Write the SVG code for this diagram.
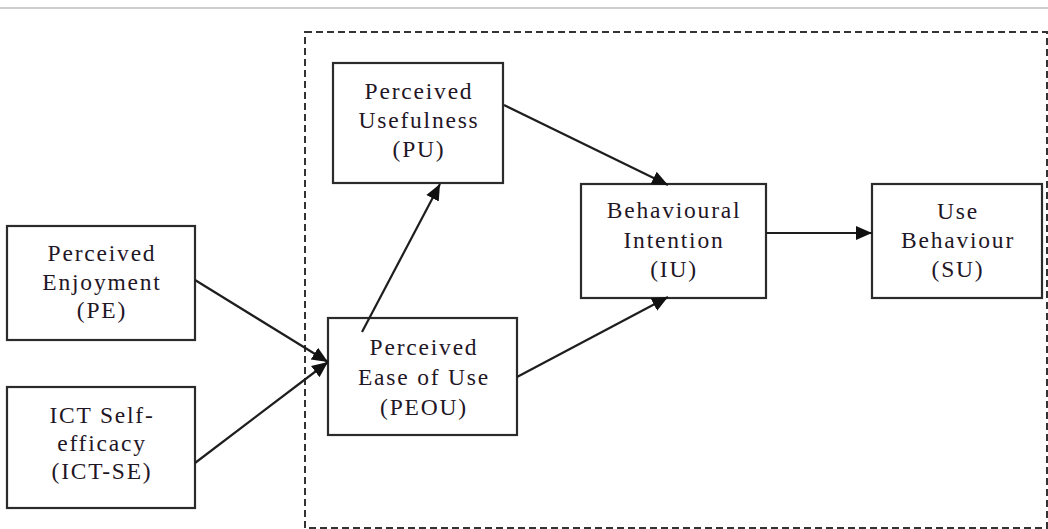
<svg xmlns="http://www.w3.org/2000/svg" width="1048" height="529" viewBox="0 0 1048 529">
<style>
.box{fill:#fff;stroke:#2b2b2b;stroke-width:2.2}
.lbl{font-family:"Liberation Serif","Times New Roman",serif;font-size:23.5px;fill:#1f1626;text-anchor:middle;letter-spacing:1.8px}
.edge{stroke:#1e1e1e;stroke-width:2.2;fill:none;marker-end:url(#ah)}
</style>
<defs>
<marker id="ah" markerWidth="18" markerHeight="16" refX="16" refY="8" orient="auto" markerUnits="userSpaceOnUse">
<path d="M0,1 L16,8 L0,15 Z" fill="#111"/>
</marker>
</defs>
<rect width="1048" height="529" fill="#fff"/>
<line x1="0" y1="8" x2="1048" y2="8" stroke="#bdbdbd" stroke-width="1.5"/>
<rect id="boundary" x="305" y="32" width="742" height="496" fill="none" stroke="#333" stroke-width="2" stroke-dasharray="7,4"/>
<g id="PE">
<rect class="box" x="7" y="226" width="188" height="114"/>
<text class="lbl" x="102" y="261">Perceived</text>
<text class="lbl" x="102" y="290">Enjoyment</text>
<text class="lbl" x="102" y="318">(PE)</text>
</g>
<g id="ICTSE">
<rect class="box" x="7" y="387" width="188" height="121"/>
<text class="lbl" x="102" y="423">ICT Self-</text>
<text class="lbl" x="102" y="451">efficacy</text>
<text class="lbl" x="102" y="479">(ICT-SE)</text>
</g>
<g id="PU">
<rect class="box" x="333" y="63" width="170" height="120"/>
<text class="lbl" x="419" y="99">Perceived</text>
<text class="lbl" x="419" y="128">Usefulness</text>
<text class="lbl" x="419" y="157">(PU)</text>
</g>
<g id="PEOU">
<rect class="box" x="328" y="318" width="189" height="117"/>
<text class="lbl" x="424" y="355">Perceived</text>
<text class="lbl" x="424" y="385">Ease of Use</text>
<text class="lbl" x="424" y="415">(PEOU)</text>
</g>
<g id="BI">
<rect class="box" x="581" y="184" width="185" height="114"/>
<text class="lbl" x="674" y="218">Behavioural</text>
<text class="lbl" x="674" y="248">Intention</text>
<text class="lbl" x="674" y="277">(IU)</text>
</g>
<g id="UB">
<rect class="box" x="872" y="184" width="170" height="114"/>
<text class="lbl" x="958" y="219">Use</text>
<text class="lbl" x="958" y="248">Behaviour</text>
<text class="lbl" x="958" y="277">(SU)</text>
</g>
<g id="connectors">
<line class="edge" x1="195" y1="280" x2="328" y2="362"/>
<line class="edge" x1="195" y1="463" x2="328" y2="362"/>
<line class="edge" x1="362" y1="332" x2="440" y2="184"/>
<line class="edge" x1="504" y1="105" x2="668" y2="185"/>
<line class="edge" x1="517" y1="377" x2="668" y2="297"/>
<line class="edge" x1="766" y1="233" x2="872" y2="233"/>
</g>
</svg>
